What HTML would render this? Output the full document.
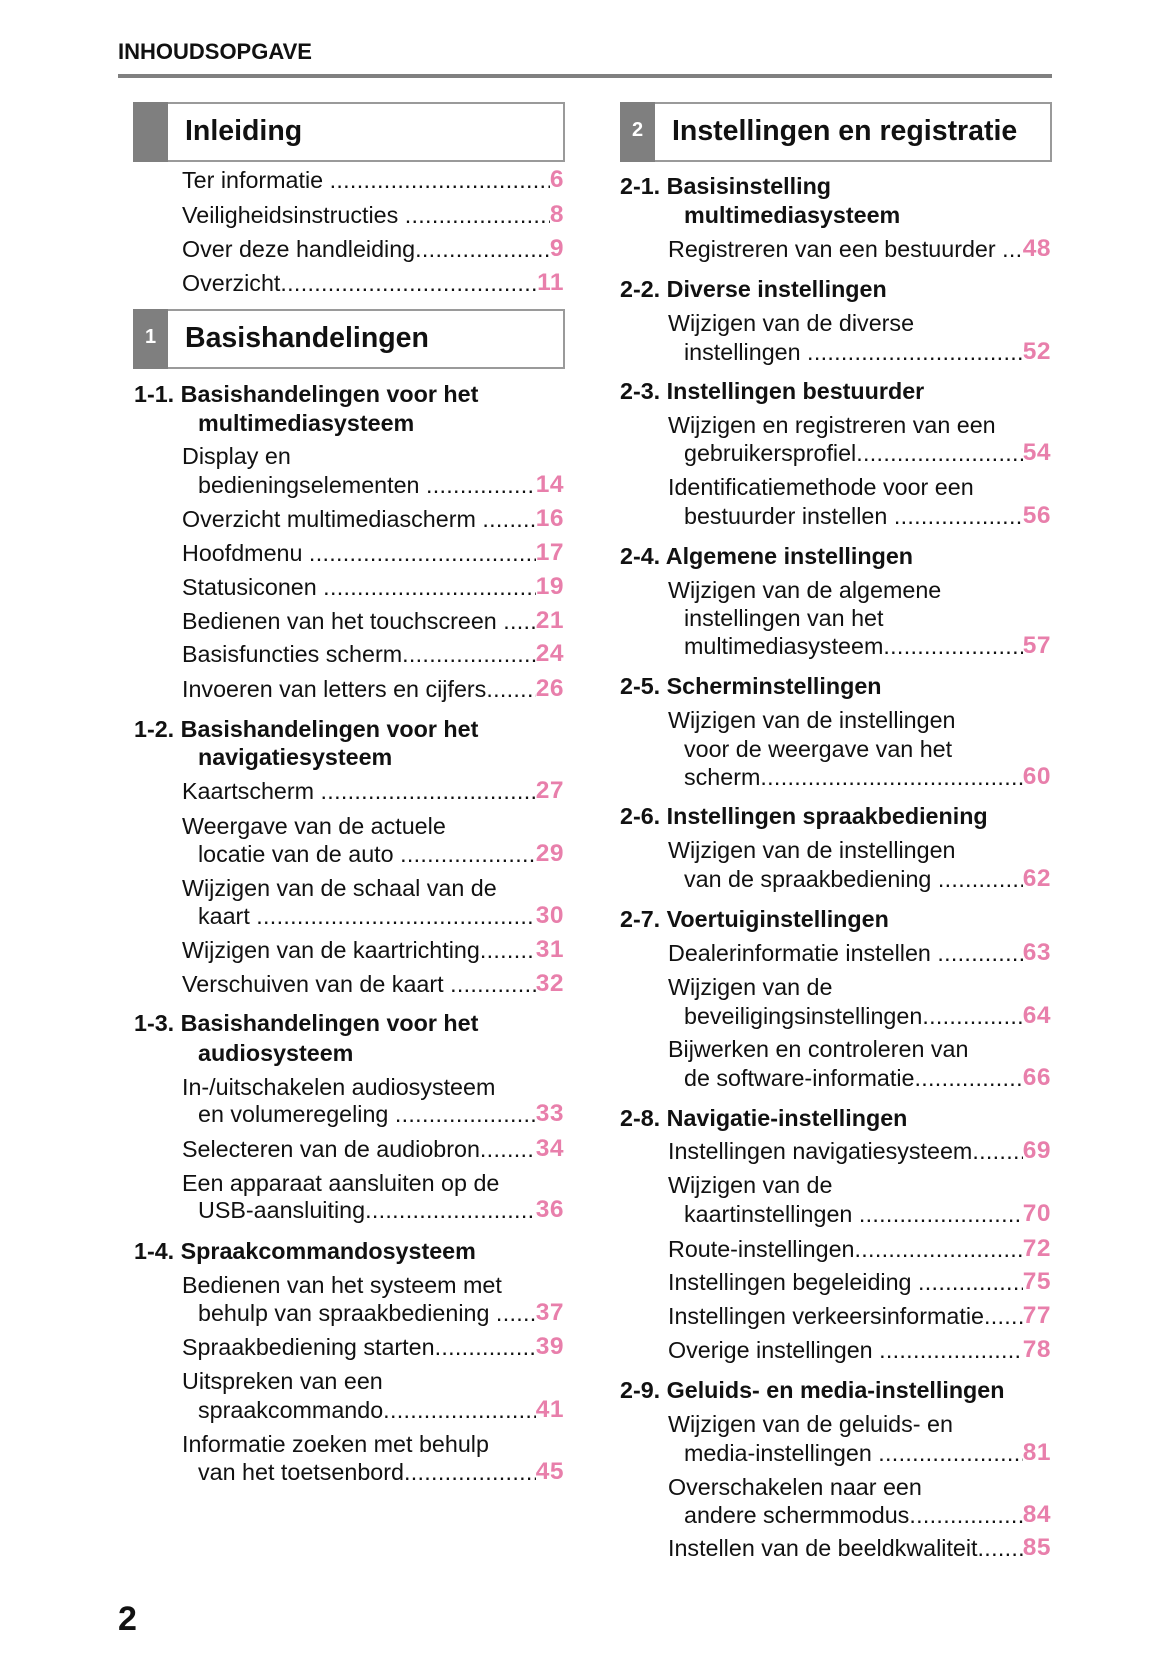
<!DOCTYPE html>
<html><head><meta charset="utf-8"><style>
body{margin:0;width:1165px;height:1653px;background:#fff;position:relative;overflow:hidden;font-family:"Liberation Sans",Arial,sans-serif;color:#111}
div{position:absolute}
.l,.r{display:flex;height:28px;line-height:28px;font-size:23.3px;white-space:nowrap}
.l{left:182px;width:382px}.r{left:668px;width:383px}
.i{padding-left:16px;box-sizing:border-box}
.d{flex:1;overflow:hidden;letter-spacing:0.3px}
.d::after{content:"..................................................................................................................."}
.n{color:#e87fab;font-weight:bold;font-size:24.5px;letter-spacing:0.5px}
.h{font-weight:bold;font-size:23.3px;height:28px;line-height:28px;white-space:nowrap}
.box{border:2px solid #9a9a9a;height:56px;box-sizing:border-box}
.sq{background:#7f7f7f;color:#fff;font-weight:bold;font-size:20px;text-align:center;line-height:56px;width:35px;height:60px;top:0}
.bt{font-weight:bold;font-size:28.5px;line-height:28px}
</style></head><body>
<div style="left:118px;top:39px;font-weight:bold;font-size:22px">INHOUDSOPGAVE</div>
<div style="left:118px;top:74px;width:934px;height:4px;background:#808080"></div>

<div class="box" style="left:133px;top:102px;width:432px;height:60px"></div>
<div class="sq" style="left:133px;top:102px"></div>
<div class="bt" style="left:185px;top:117px">Inleiding</div>
<div class="l" style="top:166px"><span>Ter informatie&nbsp;</span><span class="d"></span><span class="n">6</span></div>
<div class="l" style="top:201px"><span>Veiligheidsinstructies&nbsp;</span><span class="d"></span><span class="n">8</span></div>
<div class="l" style="top:235px"><span>Over deze handleiding</span><span class="d"></span><span class="n">9</span></div>
<div class="l" style="top:269px"><span>Overzicht</span><span class="d"></span><span class="n">11</span></div>

<div class="box" style="left:133px;top:309px;width:432px;height:60px"></div>
<div class="sq" style="left:133px;top:309px">1</div>
<div class="bt" style="left:185px;top:324px">Basishandelingen</div>
<div class="h" style="left:134px;top:380px">1-1. Basishandelingen voor het</div>
<div class="h" style="left:198px;top:409px">multimediasysteem</div>
<div class="l" style="top:442px"><span>Display en</span></div>
<div class="l i" style="top:471px"><span>bedieningselementen&nbsp;</span><span class="d"></span><span class="n">14</span></div>
<div class="l" style="top:505px"><span>Overzicht multimediascherm&nbsp;</span><span class="d"></span><span class="n">16</span></div>
<div class="l" style="top:539px"><span>Hoofdmenu&nbsp;</span><span class="d"></span><span class="n">17</span></div>
<div class="l" style="top:573px"><span>Statusiconen&nbsp;</span><span class="d"></span><span class="n">19</span></div>
<div class="l" style="top:607px"><span>Bedienen van het touchscreen&nbsp;</span><span class="d"></span><span class="n">21</span></div>
<div class="l" style="top:640px"><span>Basisfuncties scherm</span><span class="d"></span><span class="n">24</span></div>
<div class="l" style="top:675px"><span>Invoeren van letters en cijfers</span><span class="d"></span><span class="n">26</span></div>
<div class="h" style="left:134px;top:715px">1-2. Basishandelingen voor het</div>
<div class="h" style="left:198px;top:743px">navigatiesysteem</div>
<div class="l" style="top:777px"><span>Kaartscherm&nbsp;</span><span class="d"></span><span class="n">27</span></div>
<div class="l" style="top:812px"><span>Weergave van de actuele</span></div>
<div class="l i" style="top:840px"><span>locatie van de auto&nbsp;</span><span class="d"></span><span class="n">29</span></div>
<div class="l" style="top:874px"><span>Wijzigen van de schaal van de</span></div>
<div class="l i" style="top:902px"><span>kaart&nbsp;</span><span class="d"></span><span class="n">30</span></div>
<div class="l" style="top:936px"><span>Wijzigen van de kaartrichting</span><span class="d"></span><span class="n">31</span></div>
<div class="l" style="top:970px"><span>Verschuiven van de kaart&nbsp;</span><span class="d"></span><span class="n">32</span></div>
<div class="h" style="left:134px;top:1009px">1-3. Basishandelingen voor het</div>
<div class="h" style="left:198px;top:1039px">audiosysteem</div>
<div class="l" style="top:1073px"><span>In-/uitschakelen audiosysteem</span></div>
<div class="l i" style="top:1100px"><span>en volumeregeling&nbsp;</span><span class="d"></span><span class="n">33</span></div>
<div class="l" style="top:1135px"><span>Selecteren van de audiobron</span><span class="d"></span><span class="n">34</span></div>
<div class="l" style="top:1169px"><span>Een apparaat aansluiten op de</span></div>
<div class="l i" style="top:1196px"><span>USB-aansluiting</span><span class="d"></span><span class="n">36</span></div>
<div class="h" style="left:134px;top:1237px">1-4. Spraakcommandosysteem</div>
<div class="l" style="top:1271px"><span>Bedienen van het systeem met</span></div>
<div class="l i" style="top:1299px"><span>behulp van spraakbediening&nbsp;</span><span class="d"></span><span class="n">37</span></div>
<div class="l" style="top:1333px"><span>Spraakbediening starten</span><span class="d"></span><span class="n">39</span></div>
<div class="l" style="top:1367px"><span>Uitspreken van een</span></div>
<div class="l i" style="top:1396px"><span>spraakcommando</span><span class="d"></span><span class="n">41</span></div>
<div class="l" style="top:1430px"><span>Informatie zoeken met behulp</span></div>
<div class="l i" style="top:1458px"><span>van het toetsenbord</span><span class="d"></span><span class="n">45</span></div>

<div class="box" style="left:620px;top:102px;width:432px;height:60px"></div>
<div class="sq" style="left:620px;top:102px">2</div>
<div class="bt" style="left:672px;top:117px">Instellingen en registratie</div>
<div class="h" style="left:620px;top:172px">2-1. Basisinstelling</div>
<div class="h" style="left:684px;top:201px">multimediasysteem</div>
<div class="r" style="top:235px"><span>Registreren van een bestuurder&nbsp;</span><span class="d"></span><span class="n">48</span></div>
<div class="h" style="left:620px;top:275px">2-2. Diverse instellingen</div>
<div class="r" style="top:309px"><span>Wijzigen van de diverse</span></div>
<div class="r i" style="top:338px"><span>instellingen&nbsp;</span><span class="d"></span><span class="n">52</span></div>
<div class="h" style="left:620px;top:377px">2-3. Instellingen bestuurder</div>
<div class="r" style="top:411px"><span>Wijzigen en registreren van een</span></div>
<div class="r i" style="top:439px"><span>gebruikersprofiel</span><span class="d"></span><span class="n">54</span></div>
<div class="r" style="top:473px"><span>Identificatiemethode voor een</span></div>
<div class="r i" style="top:502px"><span>bestuurder instellen&nbsp;</span><span class="d"></span><span class="n">56</span></div>
<div class="h" style="left:620px;top:542px">2-4. Algemene instellingen</div>
<div class="r" style="top:576px"><span>Wijzigen van de algemene</span></div>
<div class="r i" style="top:604px"><span>instellingen van het</span></div>
<div class="r i" style="top:632px"><span>multimediasysteem</span><span class="d"></span><span class="n">57</span></div>
<div class="h" style="left:620px;top:672px">2-5. Scherminstellingen</div>
<div class="r" style="top:706px"><span>Wijzigen van de instellingen</span></div>
<div class="r i" style="top:735px"><span>voor de weergave van het</span></div>
<div class="r i" style="top:763px"><span>scherm</span><span class="d"></span><span class="n">60</span></div>
<div class="h" style="left:620px;top:802px">2-6. Instellingen spraakbediening</div>
<div class="r" style="top:836px"><span>Wijzigen van de instellingen</span></div>
<div class="r i" style="top:865px"><span>van de spraakbediening&nbsp;</span><span class="d"></span><span class="n">62</span></div>
<div class="h" style="left:620px;top:905px">2-7. Voertuiginstellingen</div>
<div class="r" style="top:939px"><span>Dealerinformatie instellen&nbsp;</span><span class="d"></span><span class="n">63</span></div>
<div class="r" style="top:973px"><span>Wijzigen van de</span></div>
<div class="r i" style="top:1002px"><span>beveiligingsinstellingen</span><span class="d"></span><span class="n">64</span></div>
<div class="r" style="top:1035px"><span>Bijwerken en controleren van</span></div>
<div class="r i" style="top:1064px"><span>de software-informatie</span><span class="d"></span><span class="n">66</span></div>
<div class="h" style="left:620px;top:1104px">2-8. Navigatie-instellingen</div>
<div class="r" style="top:1137px"><span>Instellingen navigatiesysteem</span><span class="d"></span><span class="n">69</span></div>
<div class="r" style="top:1171px"><span>Wijzigen van de</span></div>
<div class="r i" style="top:1200px"><span>kaartinstellingen&nbsp;</span><span class="d"></span><span class="n">70</span></div>
<div class="r" style="top:1235px"><span>Route-instellingen</span><span class="d"></span><span class="n">72</span></div>
<div class="r" style="top:1268px"><span>Instellingen begeleiding&nbsp;</span><span class="d"></span><span class="n">75</span></div>
<div class="r" style="top:1302px"><span>Instellingen verkeersinformatie</span><span class="d"></span><span class="n">77</span></div>
<div class="r" style="top:1336px"><span>Overige instellingen&nbsp;</span><span class="d"></span><span class="n">78</span></div>
<div class="h" style="left:620px;top:1376px">2-9. Geluids- en media-instellingen</div>
<div class="r" style="top:1410px"><span>Wijzigen van de geluids- en</span></div>
<div class="r i" style="top:1439px"><span>media-instellingen&nbsp;</span><span class="d"></span><span class="n">81</span></div>
<div class="r" style="top:1473px"><span>Overschakelen naar een</span></div>
<div class="r i" style="top:1501px"><span>andere schermmodus</span><span class="d"></span><span class="n">84</span></div>
<div class="r" style="top:1534px"><span>Instellen van de beeldkwaliteit</span><span class="d"></span><span class="n">85</span></div>

<div style="left:118px;top:1600px;font-weight:bold;font-size:34px">2</div>
</body></html>
